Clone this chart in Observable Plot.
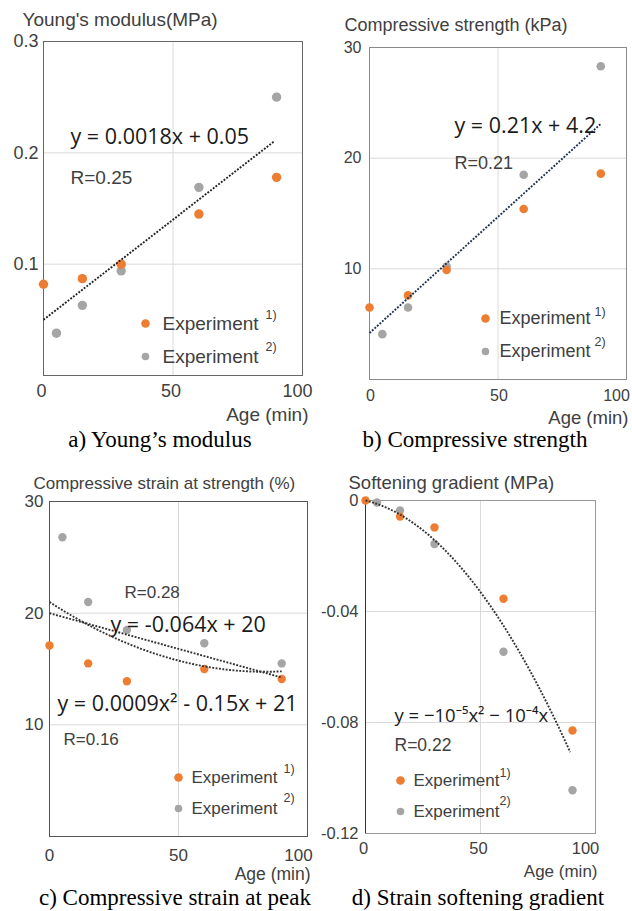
<!DOCTYPE html>
<html>
<head>
<meta charset="utf-8">
<script src="https://cdn.jsdelivr.net/npm/d3@7"></script>
<script src="https://cdn.jsdelivr.net/npm/@observablehq/plot@0.6"></script>
<style>
  body { margin: 0; background: #fff; }
  #root { position: relative; width: 632px; height: 911px; background: #fff; overflow: hidden; }
  .panel { position: absolute; overflow: visible; }
  .cap { position: absolute; font-family: 'Liberation Serif', 'Times New Roman', serif; font-size: 23px; line-height: 23px; color: #000; text-align: center; white-space: nowrap; }
</style>
</head>
<body>
<div id="root"></div>
<script>
// ---- data ----
const ageOrange = [0, 15, 30, 60, 90];
const ageGray = [5, 15, 30, 60, 90];

const youngOrange = [0.082, 0.087, 0.100, 0.145, 0.178];
const youngGray = [0.038, 0.063, 0.094, 0.169, 0.250];

const strengthOrange = [6.5, 7.6, 9.9, 15.4, 18.6];
const strengthGray = [4.1, 6.5, 10.2, 18.5, 28.3];

const strainOrange = [17.1, 15.5, 13.9, 15.0, 14.1];
const strainGray = [26.8, 21.0, 18.5, 17.3, 15.5];

const softOrange = [0, -0.0058, -0.0097, -0.0354, -0.0829];
const softGray = [-0.0007, -0.0036, -0.0157, -0.0545, -0.1044];

// trend-line coefficients (c0 + c1 x + c2 x^2)
const trendYoung = [0.05, 0.0018];
const trendStrength = [4.2, 0.21];
const trendStrainLin = [20, -0.064];
const trendStrainQuad = [21, -0.15, 0.0009];
const trendSoft = [0, -0.0002, -0.0000092];

const xTicksMain = [0, 50];
const xTickEnd = [100];
const legendLabels = ["Experiment", "Experiment"];
const legendSups = ["1)", "2)"];

// ---- helpers ----
const FONT = "'Liberation Sans', Arial, sans-serif";
const EQFONT = "'Open Sans', 'Noto Sans', sans-serif";
const ORANGE = "#ed7d31", GRAY = "#a5a5a5";

const pts = (xs, ys) => xs.map((x, i) => ({x, y: ys[i]}));
const poly = (c, x0, x1) => d3.range(x0, x1 + 0.001, 0.5).map(x => ({x, y: c.reduce((s, a, k) => s + a * x ** k, 0)}));

function makePanel(P) {
  const ann = (text, px, py, o = {}) => Plot.text([text], {
    text: d => d, frameAnchor: "top-left",
    dx: px - P.ox - P.L, dy: py - P.oy - P.T,
    textAnchor: "start", lineAnchor: "bottom",
    fontFamily: FONT, fill: "#404040", ...o
  });
  const dotAt = (px, py, fill, r) => Plot.dot([0], {
    frameAnchor: "top-left", dx: px - P.ox - P.L, dy: py - P.oy - P.T, r, fill
  });
  const lg = P.legend;
  const axX = {tickSize: 0, tickPadding: P.xPad, fontSize: P.tick, label: null};
  const marks = [
    Plot.gridX([50], {stroke: "#dadada", strokeOpacity: 1}),
    Plot.gridY(P.grid, {stroke: "#dadada", strokeOpacity: 1}),
    Plot.frame({stroke: P.frame}),
    ...(P.leftRule ? [Plot.ruleX([0], {stroke: P.leftRule})] : []),
    Plot.axisX(xTicksMain, {...axX, dx: P.x0dx}),
    Plot.axisX(xTickEnd, {...axX, dx: P.x100dx}),
    Plot.axisY(P.yticks, {tickSize: 0, tickPadding: P.yPad, fontSize: P.tick, label: null, tickFormat: P.fmt || (d => String(d))}),
    Plot.dot(pts(ageGray, P.gray), {x: "x", y: "y", r: P.r, fill: GRAY}),
    Plot.dot(pts(ageOrange, P.orange), {x: "x", y: "y", r: P.r, fill: ORANGE}),
    ...P.trends.map(t => Plot.line(poly(t.c, 0, t.end), {
      x: "x", y: "y", stroke: P.trendColor, strokeWidth: 1.9,
      strokeDasharray: "1.9,1.5", strokeLinecap: "butt"
    })),
    ann(P.title, P.titlePos[0], P.titlePos[1], {fontSize: P.titleSize}),
    ...P.texts.map(t => ann(t.s, t.x, t.y, t.eq
      ? {fontFamily: EQFONT, fontSize: t.size, fill: "#1a1a1a"}
      : {fontSize: t.size})),
    dotAt(lg.dx, lg.y1, ORANGE, 4.3),
    dotAt(lg.dx, lg.y2, GRAY, 3.8),
    ann(legendLabels[0], lg.tx, lg.y1, {fontSize: lg.size, lineAnchor: "middle"}),
    ann(legendLabels[1], lg.tx, lg.y2, {fontSize: lg.size, lineAnchor: "middle"}),
    ann(legendSups[0], lg.sx, lg.s1, {fontSize: 12.5, lineAnchor: "middle"}),
    ann(legendSups[1], lg.sx, lg.s2, {fontSize: 12.5, lineAnchor: "middle"}),
    ann("Age (min)", P.age[0], P.age[1], {fontSize: P.age[2], textAnchor: "end"})
  ];
  const svg = Plot.plot({
    width: P.W, height: P.H,
    marginLeft: P.L, marginRight: P.R, marginTop: P.T, marginBottom: P.B,
    x: {domain: [0, 100], nice: false},
    y: {domain: P.ydom, nice: false},
    style: {fontFamily: FONT, color: "#404040", background: "transparent", overflow: "visible"},
    marks
  });
  svg.classList.add("panel");
  svg.style.left = P.ox + "px";
  svg.style.top = P.oy + "px";
  return svg;
}

const panels = [
  {
    ox: 0, oy: 0, W: 316, H: 430, L: 43, T: 41, R: 14, B: 55,
    ydom: [0, 0.3], yticks: [0.1, 0.2, 0.3], grid: [0.1, 0.2], tick: 18, xPad: 9, yPad: 5,
    x0dx: -2, x100dx: -5,
    frame: "#666", r: 4.7, orange: youngOrange, gray: youngGray,
    trends: [{c: trendYoung, end: 89}], trendColor: "#222",
    title: "Young's modulus(MPa)", titlePos: [22, 25], titleSize: 19,
    texts: [
      {s: "y = 0.0018x + 0.05", x: 70, y: 143, size: 21.5, eq: true},
      {s: "R=0.25", x: 70, y: 183, size: 19}
    ],
    legend: {dx: 145, tx: 162, sx: 265, y1: 323, y2: 356, s1: 314, s2: 346, size: 19},
    age: [308, 420, 19]
  },
  {
    ox: 316, oy: 0, W: 316, H: 430, L: 53, T: 47, R: 6, B: 51,
    ydom: [0, 30], yticks: [10, 20, 30], grid: [10, 20], tick: 16, xPad: 10, yPad: 8,
    x0dx: 1, x100dx: -10,
    frame: "#8a8a8a", r: 4.3, orange: strengthOrange, gray: strengthGray,
    trends: [{c: trendStrength, end: 90}], trendColor: "#1f3050",
    title: "Compressive strength (kPa)", titlePos: [344, 30], titleSize: 18,
    texts: [
      {s: "y = 0.21x + 4.2", x: 454, y: 132, size: 21.5, eq: true},
      {s: "R=0.21", x: 454, y: 168, size: 18}
    ],
    legend: {dx: 485, tx: 499, sx: 594, y1: 318, y2: 351, s1: 311, s2: 341, size: 18},
    age: [628, 423, 18.5]
  },
  {
    ox: 0, oy: 440, W: 316, H: 471, L: 49, T: 61, R: 9, B: 75,
    ydom: [0, 30], yticks: [10, 20, 30], grid: [10, 20], tick: 17, xPad: 12, yPad: 6,
    x0dx: 0, x100dx: -9,
    frame: "#555", r: 4.2, orange: strainOrange, gray: strainGray,
    trends: [{c: trendStrainLin, end: 90}, {c: trendStrainQuad, end: 90}], trendColor: "#333",
    title: "Compressive strain at strength (%)", titlePos: [33, 488], titleSize: 17,
    texts: [
      {s: "R=0.28", x: 124, y: 597, size: 17},
      {s: "y = -0.064x + 20", x: 110, y: 631, size: 21.5, eq: true},
      {s: "y = 0.0009x² - 0.15x + 21", x: 57, y: 710, size: 21.5, eq: true},
      {s: "R=0.16", x: 63, y: 744, size: 17}
    ],
    legend: {dx: 178, tx: 191, sx: 283, y1: 777, y2: 808, s1: 768, s2: 797, size: 17},
    age: [310, 879, 17.5]
  },
  {
    ox: 316, oy: 440, W: 316, H: 471, L: 49, T: 60, R: 37, B: 78,
    ydom: [-0.12, 0], yticks: [0, -0.04, -0.08, -0.12], grid: [-0.04, -0.08], tick: 16.5, xPad: 9, yPad: 7,
    x0dx: -2, x100dx: -10,
    fmt: d => d === 0 ? "0" : d.toFixed(2),
    frame: "#999", leftRule: "#333", r: 4.2, orange: softOrange, gray: softGray,
    trends: [{c: trendSoft, end: 89}], trendColor: "#333",
    title: "Softening gradient (MPa)", titlePos: [348, 488], titleSize: 18.5,
    texts: [
      {s: "y = −10⁻⁵x² − 10⁻⁴x", x: 394, y: 721, size: 18.5, eq: true},
      {s: "R=0.22", x: 394, y: 750, size: 17.5}
    ],
    legend: {dx: 400, tx: 413, sx: 499, y1: 780, y2: 811, s1: 772, s2: 800, size: 17},
    age: [597, 876, 17]
  }
];

const root = document.getElementById("root");
panels.forEach(P => root.appendChild(makePanel(P)));

const captions = [
  {s: "a) Young’s modulus", cx: 160, base: 447},
  {s: "b) Compressive strength", cx: 475, base: 447},
  {s: "c) Compressive strain at peak", cx: 175, base: 905},
  {s: "d) Strain softening gradient", cx: 478, base: 905}
];
captions.forEach(c => {
  const div = document.createElement("div");
  div.className = "cap";
  div.textContent = c.s;
  div.style.left = (c.cx - 160) + "px";
  div.style.width = "320px";
  div.style.top = (c.base - 19) + "px";
  root.appendChild(div);
});
</script>
</body>
</html>
